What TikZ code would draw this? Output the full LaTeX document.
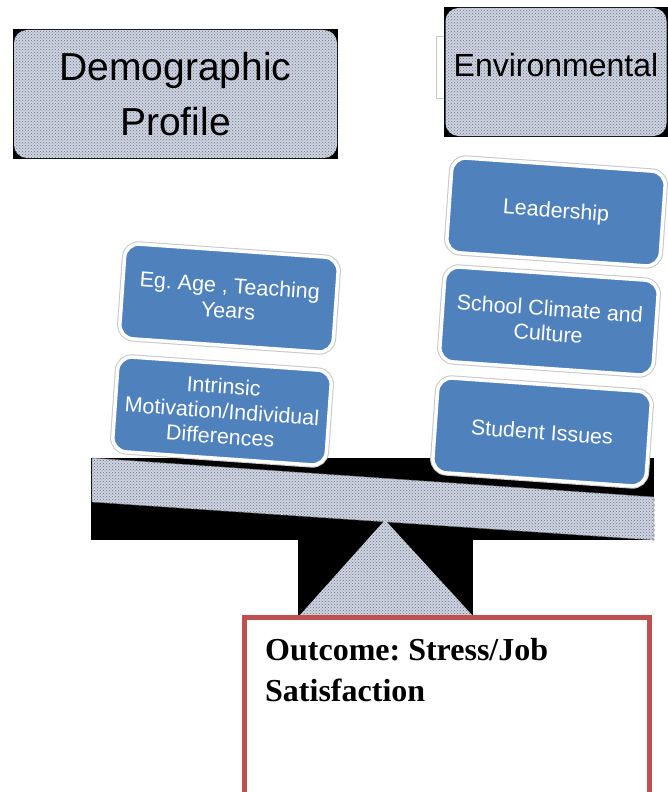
\documentclass[tikz,border=0pt]{standalone}
\usepackage{fontspec}
\setmainfont{Liberation Sans}
\newfontfamily\outcomefont{Liberation Serif}
\usetikzlibrary{patterns}
\frenchspacing

\definecolor{tilefill}{RGB}{79,129,189}
\definecolor{panelfill}{RGB}{205,211,225}
\definecolor{paneldot}{RGB}{110,116,132}
\definecolor{outcomered}{RGB}{192,80,77}
\definecolor{bracketgrey}{RGB}{200,200,200}

\begin{document}
\begin{tikzpicture}[x=1pt,y=-1pt,
  % dotted grey-blue surface used by the headers, beam and fulcrum
  panelsurface/.style={fill=panelfill,
    postaction={pattern=crosshatch dots, pattern color=paneldot}},
  header/.style={panelsurface, shape=rectangle, rounded corners=13pt,
    inner sep=0pt, align=center, text=black},
  tile/.style={shape=rectangle, rounded corners=14pt, fill=tilefill,
    draw=white, line width=3.5pt,
    preaction={draw=black!22, line width=5.5pt},
    minimum width=214pt, minimum height=95pt, inner sep=2pt,
    align=center, text=white, font=\fontsize{21.5}{25}\selectfont,
    rotate=-4},
  outcomebox/.style={draw=outcomered, line width=5pt, fill=white,
    shape=rectangle, inner sep=0pt, outer sep=0pt, minimum width=405pt,
    minimum height=200pt, anchor=north west},
  outcometext/.style={anchor=base west, inner sep=0pt,
    font=\outcomefont\bfseries\fontsize{32}{40}\selectfont}
]
\useasboundingbox (0,0) rectangle (668,792);
\clip (0,0) rectangle (668,792);

% header panels on their black backing
\fill[black] (13,29) rectangle (338,159);
\node[header, minimum width=323pt, minimum height=128pt,
  font=\fontsize{39}{55}\selectfont] (demo) at (175.5,94)
  {Demographic\\Profile};

\draw[bracketgrey, line width=0.8pt] (445,36) -- (436,36) -- (436,98) -- (445,98);
\fill[black] (444,7) rectangle (668,137);
\node[header, minimum width=221pt, minimum height=128pt,
  label={[yshift=7pt, font=\fontsize{32}{38}\selectfont]center:Environmental}]
  (env) at (556,72) {};

% beam and fulcrum
\fill[black] (91,458) rectangle (654,540);
\fill[black] (298,540) rectangle (473,615);
\path[panelsurface, draw=black!55, line width=0.7pt, dash pattern=on 3pt off 2pt]
  (92,458) -- (654,497) -- (654,540) -- (92,502) -- cycle;
\path[panelsurface] (385,520) -- (472,615) -- (300,615) -- cycle;

% weights on the left pan
\node[tile] (age) at (229,298) {Eg. Age , Teaching\\Years};
\node[tile] (motivation) at (222,411) {Intrinsic\\Motivation/Individual\\Differences};

% weights on the right pan
\node[tile] (leader) at (556,212) {Leadership};
\node[tile] (climate) at (549,321) {School Climate and\\Culture};
\node[tile] (student) at (542,432) {Student Issues};

% outcome box
\node[outcomebox] (outcome) at (244.5,617.5) {};
\node[outcometext] (outline1) at (265,660) {Outcome: Stress/Job};
\node[outcometext] (outline2) at (265,701) {Satisfaction};
\end{tikzpicture}
\end{document}
